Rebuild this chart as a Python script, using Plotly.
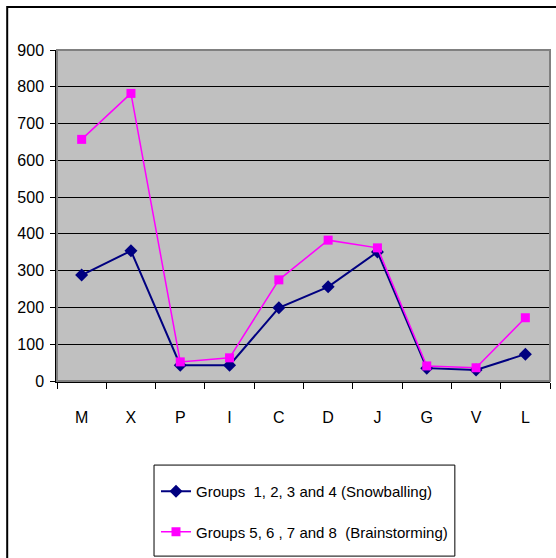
import plotly.graph_objects as go

categories = ["M", "X", "P", "I", "C", "D", "J", "G", "V", "L"]
snowballing = [288, 354, 43, 43, 199, 256, 351, 35, 30, 73]
brainstorming = [657, 782, 52, 63, 275, 383, 362, 41, 36, 172]
y_ticks = [0, 100, 200, 300, 400, 500, 600, 700, 800, 900]

FONT = "Liberation Sans Narrow, Arial Narrow, Liberation Sans, Arial, sans-serif"

fig = go.Figure()
fig.add_trace(go.Scatter(
    x=categories, y=snowballing, mode="lines+markers",
    name="Groups  1, 2, 3 and 4 (Snowballing)",
    line=dict(color="#000080", width=2),
    marker=dict(symbol="diamond", size=10, color="#000080"),
    legendgroup="a",
))
fig.add_trace(go.Scatter(
    x=categories, y=brainstorming, mode="lines+markers",
    name="Groups 5, 6 , 7 and 8  (Brainstorming)",
    line=dict(color="#FF00FF", width=1.5),
    marker=dict(symbol="square", size=9, color="#FF00FF"),
    legendgroup="b",
))

fig.update_layout(
    width=556, height=558,
    margin=dict(l=57, r=6, t=50, b=177, autoexpand=False),
    paper_bgcolor="white",
    plot_bgcolor="#C0C0C0",
    font=dict(family=FONT, size=16, color="black"),
    showlegend=True,
    legend=dict(
        x=0.2008, y=-0.284, xanchor="left", yanchor="top",
        borderwidth=0, bgcolor="rgba(0,0,0,0)",
        font=dict(family=FONT, size=15, color="black"),
        tracegroupgap=18, traceorder="grouped", itemwidth=30,
    ),
    shapes=[dict(
        type="rect", xref="paper", yref="paper",
        x0=-0.101, x1=1.2, y0=-0.7, y1=1.13,
        line=dict(color="black", width=2), layer="below",
    ), dict(
        type="rect", xref="paper", yref="paper",
        x0=0, x1=1, y0=0, y1=1,
        line=dict(color="#808080", width=2), layer="above",
    ), dict(
        type="rect", xref="paper", yref="paper",
        x0=0.1968, x1=0.807, y0=-0.529, y1=-0.254,
        line=dict(color="black", width=1), fillcolor="white", layer="below",
    )],
)

fig.update_xaxes(
    type="category", range=[-0.5, 9.5],
    tickson="boundaries", ticks="outside", ticklen=6, tickcolor="black",
    showline=True, linecolor="black", linewidth=1.5,
    showgrid=False, tickfont=dict(size=16), ticklabelstandoff=21,
    automargin=False,
)
fig.update_yaxes(
    range=[0, 900], tickvals=y_ticks,
    ticks="outside", ticklen=5, tickcolor="black",
    showline=True, linecolor="black", linewidth=1.5,
    showgrid=True, gridcolor="black", gridwidth=1,
    zeroline=False, tickfont=dict(size=16), ticklabelstandoff=3,
    automargin=False,
)

fig.write_html("out.html", config={"displayModeBar": False},
               post_script="document.body.style.margin='0';")
